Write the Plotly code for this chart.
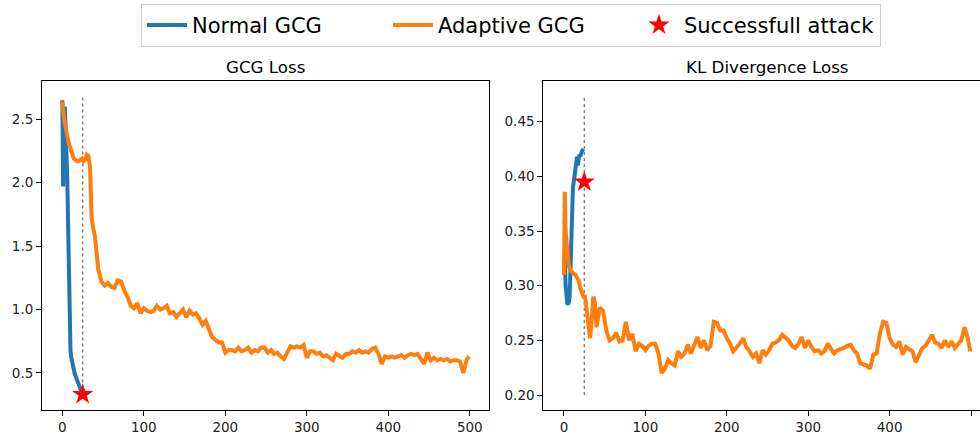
import plotly.graph_objects as go

# ---------------- data ----------------
# Normal GCG (iterations 0..25)
normal_x = list(range(0, 26))
normal_gcg_loss = [2.65, 1.97, 2.45, 2.60, 2.45, 2.30, 2.05, 1.70, 1.20, 0.85,
                   0.68, 0.62, 0.58, 0.55, 0.52, 0.50, 0.48, 0.46, 0.44, 0.42,
                   0.40, 0.39, 0.37, 0.36, 0.34, 0.33]
normal_x_kl = list(range(0, 25))
normal_kl_loss = [0.310, 0.330, 0.300, 0.290, 0.284, 0.283, 0.285, 0.290, 0.320, 0.350,
                  0.370, 0.390, 0.395, 0.400, 0.405, 0.415, 0.418, 0.410, 0.418, 0.420,
                  0.418, 0.422, 0.423, 0.424, 0.425]

# Adaptive GCG iterations at which values were read
adaptive_x = list(range(0, 4)) + list(range(4, 41, 2)) + list(range(44, 497, 4)) + [499]
adaptive_gcg_loss = [
    2.64, 2.60, 2.52, 2.47,
    2.42, 2.37, 2.31, 2.26, 2.22, 2.19, 2.18, 2.17, 2.17, 2.18,
    2.19, 2.17, 2.18, 2.22, 2.21, 2.12, 1.72, 1.64, 1.58,
    1.32, 1.22, 1.19, 1.21, 1.18, 1.17, 1.23, 1.22, 1.15, 1.10,
    1.03, 1.01, 1.05, 0.97, 1.01, 0.99, 0.98, 0.99, 1.03, 1.00,
    1.01, 1.03, 0.97, 0.98, 0.94, 0.97, 1.00, 0.94, 0.99, 0.96,
    0.97, 0.93, 0.88, 0.91, 0.84, 0.78, 0.76, 0.74, 0.74, 0.66,
    0.68, 0.68, 0.67, 0.70, 0.67, 0.68, 0.70, 0.66, 0.68, 0.67,
    0.70, 0.70, 0.66, 0.68, 0.65, 0.66, 0.63, 0.61, 0.66, 0.71,
    0.70, 0.71, 0.70, 0.72, 0.62, 0.67, 0.67, 0.65, 0.66, 0.63,
    0.64, 0.62, 0.60, 0.65, 0.63, 0.62, 0.65, 0.65, 0.67, 0.66,
    0.68, 0.66, 0.67, 0.66, 0.69, 0.70, 0.65, 0.57, 0.63, 0.62,
    0.63, 0.62, 0.63, 0.64, 0.62, 0.64, 0.65, 0.64, 0.65, 0.61,
    0.57, 0.66, 0.60, 0.62, 0.60, 0.61, 0.60, 0.61, 0.59, 0.60,
    0.60, 0.59, 0.50, 0.60, 0.63]
adaptive_kl_loss = [
    0.310, 0.386, 0.350, 0.340,
    0.335, 0.318, 0.314, 0.312, 0.311, 0.310, 0.307, 0.305, 0.298, 0.293,
    0.290, 0.290, 0.275, 0.268, 0.252, 0.268, 0.290, 0.285, 0.262,
    0.280, 0.277, 0.259, 0.250, 0.252, 0.257, 0.249, 0.250, 0.267, 0.250,
    0.256, 0.240, 0.247, 0.245, 0.241, 0.245, 0.247, 0.247, 0.238, 0.220,
    0.224, 0.232, 0.229, 0.227, 0.240, 0.235, 0.238, 0.246, 0.238, 0.245,
    0.253, 0.243, 0.250, 0.241, 0.245, 0.267, 0.266, 0.259, 0.259, 0.252,
    0.247, 0.240, 0.243, 0.247, 0.252, 0.244, 0.240, 0.235, 0.238, 0.229,
    0.241, 0.237, 0.241, 0.247, 0.248, 0.250, 0.255, 0.253, 0.250, 0.245,
    0.243, 0.247, 0.253, 0.243, 0.250, 0.244, 0.240, 0.241, 0.238, 0.240,
    0.247, 0.242, 0.238, 0.241, 0.242, 0.243, 0.245, 0.246, 0.241, 0.238,
    0.229, 0.228, 0.227, 0.224, 0.237, 0.238, 0.256, 0.267, 0.266, 0.252,
    0.246, 0.244, 0.249, 0.237, 0.244, 0.242, 0.240, 0.230, 0.237, 0.243,
    0.245, 0.250, 0.255, 0.248, 0.247, 0.243, 0.250, 0.244, 0.249, 0.243,
    0.247, 0.250, 0.262, 0.252, 0.240]

# successful attack markers
attack_iter = [25]
attack_gcg = [0.33]
attack_kl = [0.395]

# vertical dotted marker line (iteration, ymin, ymax)
vline_iter = 25
vline_gcg = [0.33, 2.68]
vline_kl = [0.20, 0.473]

BLUE = "#1f77b4"
ORANGE = "#ff7f0e"
FONT = "DejaVu Sans"

fig = go.Figure()

# ---- left panel: GCG loss ----
fig.add_trace(go.Scatter(x=[vline_iter, vline_iter], y=vline_gcg, mode="lines",
                         line=dict(color="grey", width=1.5, dash="dot"),
                         showlegend=False, hoverinfo="skip", xaxis="x", yaxis="y"))
fig.add_trace(go.Scatter(x=normal_x, y=normal_gcg_loss, mode="lines", name="Normal GCG",
                         line=dict(color=BLUE, width=4), xaxis="x", yaxis="y"))
fig.add_trace(go.Scatter(x=adaptive_x, y=adaptive_gcg_loss, mode="lines", name="Adaptive GCG",
                         line=dict(color=ORANGE, width=4), xaxis="x", yaxis="y"))
fig.add_trace(go.Scatter(x=attack_iter, y=attack_gcg, mode="markers", name="Successfull attack",
                         marker=dict(symbol="star", color="red", size=16, line=dict(width=0)),
                         xaxis="x", yaxis="y"))

# ---- right panel: KL divergence loss ----
fig.add_trace(go.Scatter(x=[vline_iter, vline_iter], y=vline_kl, mode="lines",
                         line=dict(color="grey", width=1.5, dash="dot"),
                         showlegend=False, hoverinfo="skip", xaxis="x2", yaxis="y2"))
fig.add_trace(go.Scatter(x=normal_x_kl, y=normal_kl_loss, mode="lines", showlegend=False,
                         line=dict(color=BLUE, width=4), xaxis="x2", yaxis="y2"))
fig.add_trace(go.Scatter(x=adaptive_x, y=adaptive_kl_loss, mode="lines", showlegend=False,
                         line=dict(color=ORANGE, width=4), xaxis="x2", yaxis="y2"))
fig.add_trace(go.Scatter(x=attack_iter, y=attack_kl, mode="markers", showlegend=False,
                         marker=dict(symbol="star", color="red", size=16, line=dict(width=0)),
                         xaxis="x2", yaxis="y2"))

W, H = 980, 434
ydom = [(H - 410) / H, (H - 81.3) / H]
axis_common = dict(showline=True, linecolor="black", linewidth=1, ticks="outside",
                   ticklen=5, tickcolor="black", showgrid=False, zeroline=False,
                   tickfont=dict(family=FONT, size=13.5, color="#222"))

fig.update_layout(
    width=W, height=H, margin=dict(l=0, r=0, t=0, b=0),
    paper_bgcolor="white", plot_bgcolor="white",
    font=dict(family=FONT, color="black"),
    xaxis=dict(domain=[42 / W, 489.3 / W], range=[-24.95, 523.95], tickvals=[0, 100, 200, 300, 400, 500],
               mirror=True, anchor="y", **axis_common),
    yaxis=dict(domain=ydom, range=[0.2075, 2.80], tickvals=[0.5, 1.0, 1.5, 2.0, 2.5],
               tickformat=".1f", mirror=True, anchor="x", **axis_common),
    xaxis2=dict(domain=[543.3 / W, 1.0], range=[-25.4, 511], tickvals=[0, 100, 200, 300, 400, 500],
                mirror=True, anchor="y2", **axis_common),
    yaxis2=dict(domain=ydom, range=[0.1863, 0.487], tickvals=[0.20, 0.25, 0.30, 0.35, 0.40, 0.45],
                tickformat=".2f", mirror=False, anchor="x2", **axis_common),
    legend=dict(orientation="h", x=0.5214, xanchor="center", y=0.991, yanchor="top",
                font=dict(family=FONT, size=21, color="black"),
                bordercolor="#cccccc", borderwidth=1, bgcolor="white",
                itemwidth=40, tracegroupgap=0, entrywidth=191, entrywidthmode="pixels"),
    annotations=[
        dict(text="GCG Loss", x=(42 + 489.3) / 2 / W, y=(H - 67) / H, xref="paper", yref="paper",
             showarrow=False, font=dict(family=FONT, size=16.7, color="black"),
             xanchor="center", yanchor="middle"),
        dict(text="KL Divergence Loss", x=767 / W, y=(H - 67) / H, xref="paper", yref="paper",
             showarrow=False, font=dict(family=FONT, size=16.7, color="black"),
             xanchor="center", yanchor="middle"),
    ],
)

fig.write_html("out.html",
               config={"displayModeBar": False},
               post_script="document.body.style.margin='0';"
                           "document.documentElement.style.overflow='hidden';")
